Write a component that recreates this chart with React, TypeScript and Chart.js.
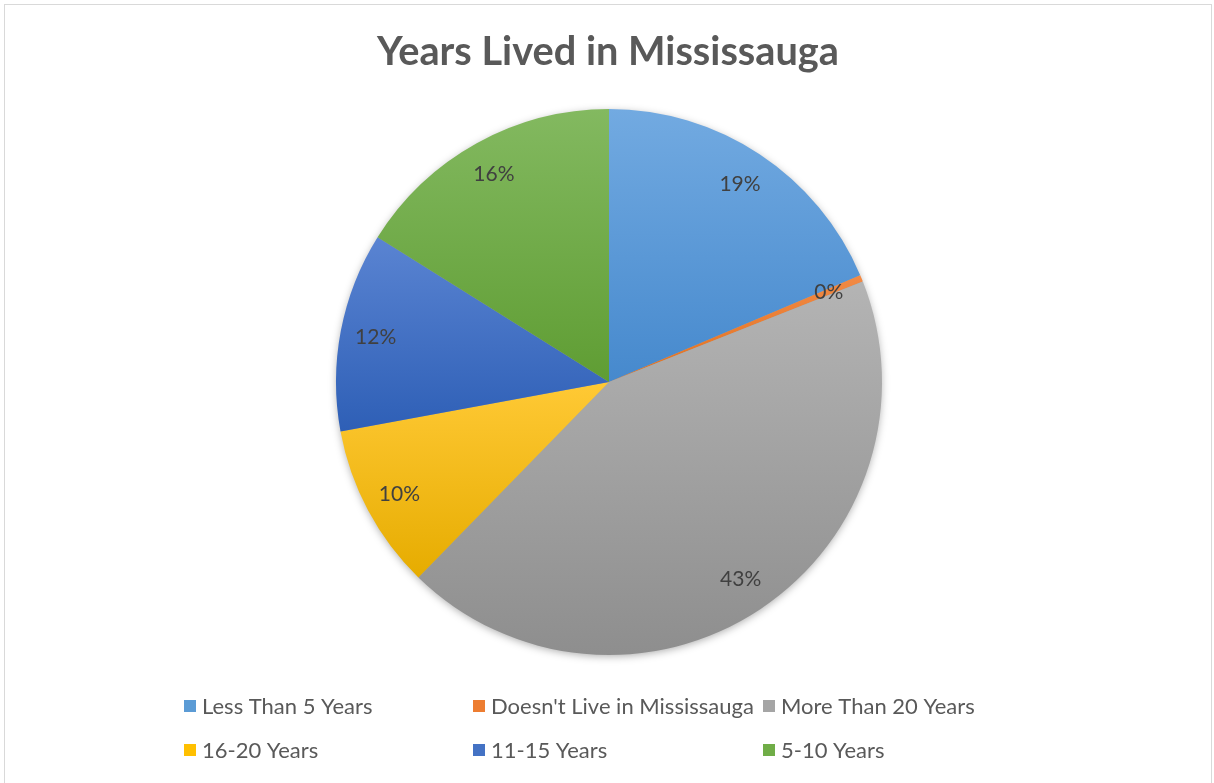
import { useEffect, useRef } from 'react';
import { Chart, registerables } from 'chart.js';
Chart.register(...registerables);

const chartTitle = 'Years Lived in Mississauga';
const categories = [
  'Less Than 5 Years',
  "Doesn't Live in Mississauga",
  'More Than 20 Years',
  '16-20 Years',
  '11-15 Years',
  '5-10 Years',
];
const shares = [18.6, 0.4, 43.3, 9.8, 11.8, 16.1];
const topColors = ['#72aae1', '#f28a45', '#b4b4b4', '#ffc935', '#5a84d2', '#83b960'];
const bottomColors = ['#4689cd', '#e0701f', '#8e8e8e', '#e6ac00', '#2e5fb6', '#5f9d33'];
const legendColors = ['#5b9bd5', '#ed7d31', '#a5a5a5', '#ffc000', '#4472c4', '#70ad47'];

const FONT = 'Lato, "Noto Sans", sans-serif';

function sliceGeom(chart: any, i: number) {
  const ca = chart.chartArea;
  const cx = (ca.left + ca.right) / 2;
  const cy = (ca.top + ca.bottom) / 2;
  const r = Math.min(ca.right - ca.left, ca.bottom - ca.top) / 2;
  const data = chart.data.datasets[0].data as number[];
  const total = data.reduce((a, b) => a + b, 0);
  let a0 = -Math.PI / 2;
  for (let j = 0; j < i; j++) a0 += (data[j] / total) * Math.PI * 2;
  const a1 = a0 + (data[i] / total) * Math.PI * 2;
  return { cx, cy, r, a0, a1 };
}

function sliceGradient(ctx: any) {
  const chart = ctx.chart;
  const i = ctx.dataIndex;
  if (!chart.chartArea || i === undefined) return legendColors[i ?? 0];
  const { cy, r, a0, a1 } = sliceGeom(chart, i);
  const ys = [cy, cy + r * Math.sin(a0), cy + r * Math.sin(a1)];
  for (const k of [-Math.PI / 2, Math.PI / 2, (3 * Math.PI) / 2]) {
    if (k >= a0 && k <= a1) ys.push(cy + r * Math.sin(k));
  }
  const y0 = Math.min(...ys);
  let y1 = Math.max(...ys);
  if (y1 - y0 < 2) y1 = y0 + 2;
  const g = chart.ctx.createLinearGradient(0, y0, 0, y1);
  g.addColorStop(0, topColors[i]);
  g.addColorStop(1, bottomColors[i]);
  return g;
}

const decorPlugin = {
  id: 'decor',
  beforeDatasetsDraw(chart: any) {
    const ca = chart.chartArea;
    const cx = (ca.left + ca.right) / 2;
    const cy = (ca.top + ca.bottom) / 2;
    const r = Math.min(ca.right - ca.left, ca.bottom - ca.top) / 2;
    const c = chart.ctx;
    c.save();
    c.shadowColor = 'rgba(0,0,0,0.35)';
    c.shadowBlur = 9;
    c.shadowOffsetX = 0;
    c.shadowOffsetY = 2;
    c.beginPath();
    c.arc(cx, cy, r - 1, 0, Math.PI * 2);
    c.fillStyle = '#a0a0a0';
    c.fill();
    c.restore();
  },
  afterDatasetsDraw(chart: any) {
    const c = chart.ctx;
    const meta = chart.getDatasetMeta(0);
    const data = chart.data.datasets[0].data as number[];
    c.save();
    c.fillStyle = '#404040';
    c.font = `21px ${FONT}`;
    c.textAlign = 'center';
    c.textBaseline = 'middle';
    meta.data.forEach((el: any, i: number) => {
      const p = el.getProps(['x', 'y', 'startAngle', 'endAngle', 'outerRadius'], true);
      const mid = (p.startAngle + p.endAngle) / 2;
      const rr = p.outerRadius * 0.87;
      c.fillText(`${Math.round(data[i])}%`, p.x + Math.cos(mid) * rr, p.y + Math.sin(mid) * rr);
    });
    c.restore();

    // title
    c.save();
    c.fillStyle = '#595959';
    c.font = `bold 40px ${FONT}`;
    c.textAlign = 'center';
    c.textBaseline = 'middle';
    c.fillText(chartTitle, 608, 52, 462);
    c.restore();

    // legend
    const colX = [184, 473, 763];
    const rowY = [706, 750];
    c.save();
    c.font = `22px ${FONT}`;
    c.textBaseline = 'middle';
    c.textAlign = 'left';
    const labels = chart.data.labels as string[];
    labels.forEach((lab: string, i: number) => {
      const x = colX[i % 3];
      const y = rowY[Math.floor(i / 3)];
      c.fillStyle = legendColors[i];
      c.fillRect(x, y - 6, 12, 12);
      c.fillStyle = '#595959';
      c.fillText(lab, x + 18, y + 1);
    });
    c.restore();
  },
};

export default function App() {
  const ref = useRef<HTMLCanvasElement>(null);
  useEffect(() => {
    if (!ref.current) return;
    const chart = new Chart(ref.current, {
      type: 'pie',
      data: {
        labels: categories,
        datasets: [
          {
            data: shares,
            backgroundColor: sliceGradient as any,
            borderWidth: 0,
          },
        ],
      },
      options: {
        responsive: false,
        animation: false,
        layout: { padding: { top: 109, bottom: 128, left: 336, right: 332 } },
        plugins: {
          legend: { display: false },
          title: { display: false },
          tooltip: { enabled: false },
        },
      },
      plugins: [decorPlugin],
    });
    return () => chart.destroy();
  }, []);
  return (
    <div style={{ position: 'absolute', left: 0, top: 0, width: 1214, height: 783, background: '#fff', overflow: 'hidden' }}>
      <div
        style={{
          position: 'absolute',
          left: 4,
          top: 4,
          width: 1208,
          height: 800,
          border: '1px solid #d9d9d9',
          boxSizing: 'border-box',
        }}
      />
      <canvas ref={ref} width={1214} height={783} style={{ position: 'absolute', left: 0, top: 0 }} />
    </div>
  );
}
